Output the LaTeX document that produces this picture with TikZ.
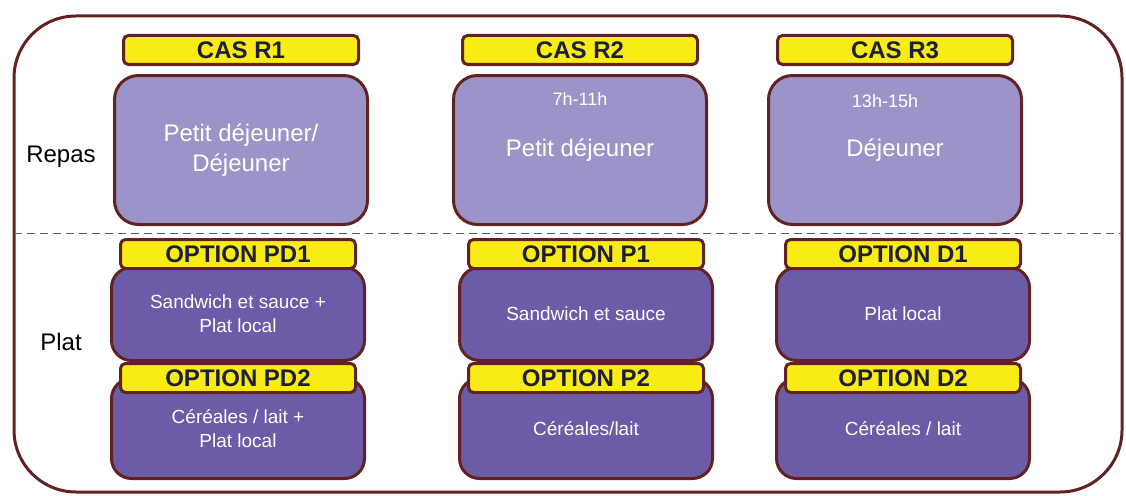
\documentclass[tikz,border=0pt]{standalone}
\usepackage{fontspec}
\setmainfont{Liberation Sans}
\usepackage{tikz}
\usetikzlibrary{positioning}
\definecolor{cadrebrun}{RGB}{98,34,34}
\definecolor{jaune}{RGB}{248,236,20}
\definecolor{lavande}{RGB}{156,148,200}
\definecolor{violet}{RGB}{108,92,168}
\definecolor{encre}{RGB}{30,30,55}
\newlength{\colWidth}
\setlength{\colWidth}{253pt}
\newlength{\tagWidth}
\setlength{\tagWidth}{235pt}
\tikzset{
  repasbox/.style={shape=rectangle, draw=cadrebrun, line width=3pt, fill=lavande, rounded corners=24pt, minimum width=\colWidth, minimum height=149pt, text=white, align=center, font=\fontsize{24}{30}\selectfont},
  platbox/.style={shape=rectangle, draw=cadrebrun, line width=3pt, fill=violet, rounded corners=20pt, minimum width=\colWidth, text=white, align=center, font=\fontsize{19}{24}\selectfont},
  etiquette/.style={shape=rectangle, draw=cadrebrun, line width=3pt, fill=jaune, rounded corners=5pt, minimum width=\tagWidth, minimum height=29pt, inner sep=0pt, text=encre, font=\fontsize{24}{24}\selectfont\bfseries},
  heure/.style={text=white, inner sep=0pt, font=\fontsize{18}{18}\selectfont},
  rangee/.style={anchor=base, inner sep=0pt, font=\fontsize{24}{24}\selectfont}
}

\begin{document}
\begin{tikzpicture}[x=1pt,y=1pt]
\useasboundingbox (0,0) rectangle (1126,-495);
\draw[cadrebrun, line width=3pt, rounded corners=62pt] (14,-16) rectangle (1122,-492);
\draw[black!65, line width=1pt, dash pattern=on 8pt off 5pt] (14,-233) -- (1122,-233);

\node[rangee] (repas) at (61,-162) {Repas};
\node[rangee] (plat) at (61,-350) {Plat};

\begin{scope}[node distance=8pt]
    \node[repasbox] (r1) at (241,-150) {Petit déjeuner/\\Déjeuner};
    \node[repasbox] (r2) at (580,-150) {Petit déjeuner};
    \node[repasbox] (r3) at (895,-150) {Déjeuner};
    \node[etiquette,above=of r1] (casr1) {CAS R1};
    \node[etiquette,above=of r2] (casr2) {CAS R2};
    \node[etiquette,above=of r3] (casr3) {CAS R3};
    \node[heure,below=18pt of r2.north] (h2) {7h-11h};
    \node[heure,below=20pt of r3.north,xshift=-10pt] (h3) {13h-15h};
\end{scope}

\begin{scope}[every node/.style={platbox}]
    \node[minimum height=93pt] (pd1) at (238,-314) {Sandwich et sauce +\\Plat local};
    \node[minimum height=100pt,below=15pt of pd1] (pd2) {Céréales / lait +\\Plat local};
    \node[minimum height=93pt] (p1) at (586,-314) {Sandwich et sauce};
    \node[minimum height=100pt,below=15pt of p1] (p2) {Céréales/lait};
    \node[minimum height=93pt] (d1) at (903,-314) {Plat local};
    \node[minimum height=100pt,below=15pt of d1] (d2) {Céréales / lait};
\end{scope}

\begin{scope}[every node/.style={etiquette}]
    \node[above=-4pt of pd1] (optpd1) {OPTION PD1};
    \node[above=-17pt of pd2] (optpd2) {OPTION PD2};
    \node[above=-4pt of p1] (optp1) {OPTION P1};
    \node[above=-17pt of p2] (optp2) {OPTION P2};
    \node[above=-4pt of d1] (optd1) {OPTION D1};
    \node[above=-17pt of d2] (optd2) {OPTION D2};
\end{scope}
\end{tikzpicture}
\end{document}
